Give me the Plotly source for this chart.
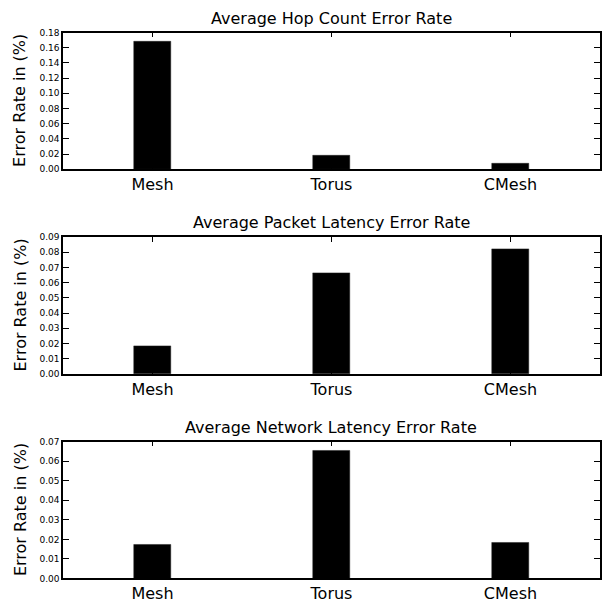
import plotly.graph_objects as go

categories = ["Mesh", "Torus", "CMesh"]
hop_count = [0.168, 0.0187, 0.0078]
packet_latency = [0.0181, 0.0663, 0.0822]
network_latency = [0.0175, 0.0653, 0.0185]
titles = ["Average Hop Count Error Rate", "Average Packet Latency Error Rate", "Average Network Latency Error Rate"]
y_max = [0.18, 0.09, 0.07]
y_dtick = [0.02, 0.01, 0.01]
y_label = "Error Rate in (%)"

series = [hop_count, packet_latency, network_latency]
font_family = "DejaVu Sans"

fig = go.Figure()
domains_y = [[0.7253, 0.9539], [0.3832, 0.6118], [0.0411, 0.2697]]
xdom = [0.1045, 0.995]

for i, vals in enumerate(series):
    n = "" if i == 0 else str(i + 1)
    fig.add_trace(go.Bar(
        x=list(range(len(categories))), y=vals, width=0.21,
        marker=dict(color="black", line=dict(color="#222222", width=0.5)),
        xaxis="x" + n, yaxis="y" + n, showlegend=False, hoverinfo="skip",
    ))
    fig.layout["xaxis" + n] = dict(
        domain=xdom, anchor="y" + n, range=[-0.5, 2.5],
        tickvals=list(range(len(categories))), ticktext=categories,
        ticks="inside", ticklen=5, tickwidth=1, tickcolor="black",
        showline=True, linecolor="black", linewidth=1.5, mirror="ticks",
        showgrid=False, zeroline=False,
        tickfont=dict(family=font_family, size=16, color="black"),
    )
    fig.layout["yaxis" + n] = dict(
        domain=domains_y[i], anchor="x" + n, range=[0, y_max[i]],
        dtick=y_dtick[i], tick0=0, tickformat=".2f",
        ticks="inside", ticklen=6, tickwidth=1, tickcolor="black",
        showline=True, linecolor="black", linewidth=1.5, mirror="ticks",
        showgrid=False, zeroline=False,
        tickfont=dict(family=font_family, size=9, color="black"),
    )
    fig.add_annotation(
        text=titles[i], xref="paper", yref="paper",
        x=(xdom[0] + xdom[1]) / 2, y=domains_y[i][1] + 0.005,
        xanchor="center", yanchor="bottom", showarrow=False,
        font=dict(family=font_family, size=16, color="black"),
    )
    fig.add_annotation(
        text=y_label, xref="paper", yref="paper",
        x=20 / 603, y=(domains_y[i][0] + domains_y[i][1]) / 2,
        xanchor="center", yanchor="middle", textangle=-90, showarrow=False,
        font=dict(family=font_family, size=16, color="black"),
    )

fig.update_layout(
    width=603, height=608, autosize=False,
    margin=dict(l=0, r=0, t=0, b=0),
    paper_bgcolor="white", plot_bgcolor="white",
    bargap=0, hovermode=False,
)
fig.write_html(
    "out.html",
    config={"displayModeBar": False},
    post_script="document.body.style.margin='0';document.body.style.overflow='hidden';",
)
